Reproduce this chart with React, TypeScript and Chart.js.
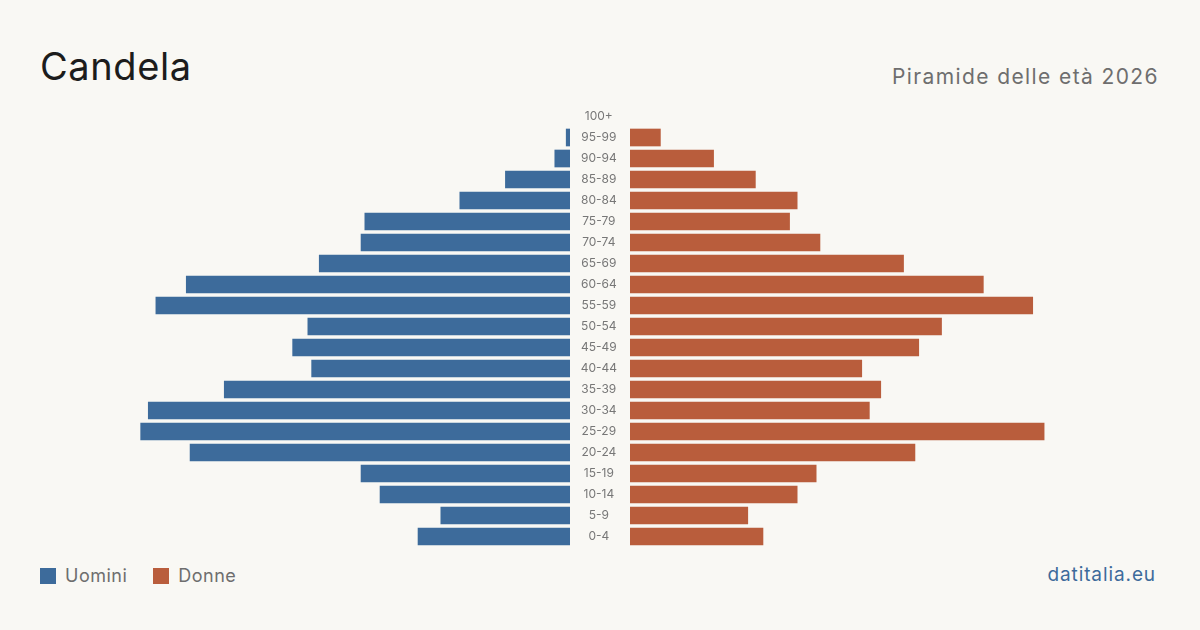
import React, { useEffect, useRef } from "react";
import { Chart, registerables } from "chart.js";

Chart.register(...registerables);

const ageGroups = [
  "100+", "95-99", "90-94", "85-89", "80-84", "75-79", "70-74", "65-69",
  "60-64", "55-59", "50-54", "45-49", "40-44", "35-39", "30-34", "25-29",
  "20-24", "15-19", "10-14", "5-9", "0-4",
];
const men = [0, 1, 4, 17, 29, 54, 55, 66, 101, 109, 69, 73, 68, 91, 111, 113, 100, 55, 50, 34, 40];
const women = [0, 8, 22, 33, 44, 42, 50, 72, 93, 106, 82, 76, 61, 66, 63, 109, 75, 49, 44, 31, 35];
const xMax = 139.5;

const BLUE = "#3d6b9b";
const ORANGE = "#b95d3c";
const BG = "#f9f8f4";
const FONT = "Inter, 'Noto Sans', sans-serif";

// zero counts are not drawn (no hairline bar)
const toDrawn = (arr: number[]) => arr.map((v) => (v === 0 ? null : v));

export default function App() {
  const leftRef = useRef<HTMLCanvasElement>(null);
  const rightRef = useRef<HTMLCanvasElement>(null);

  useEffect(() => {
    document.body.style.margin = "0";
    document.body.style.background = BG;
    Chart.defaults.font.family = FONT;

    const left = new Chart(leftRef.current!, {
      type: "bar",
      data: {
        labels: ageGroups,
        datasets: [
          { label: "Uomini", data: toDrawn(men), backgroundColor: BLUE, borderWidth: 0, barThickness: 17 },
        ],
      },
      options: {
        indexAxis: "y",
        responsive: false,
        animation: false,
        events: [],
        layout: { padding: 0 },
        plugins: { legend: { display: false }, tooltip: { enabled: false } },
        scales: {
          x: { display: false, reverse: true, min: 0, max: xMax },
          y: { display: false },
        },
      },
    });

    const right = new Chart(rightRef.current!, {
      type: "bar",
      data: {
        labels: ageGroups,
        datasets: [
          { label: "Donne", data: toDrawn(women), backgroundColor: ORANGE, borderWidth: 0, barThickness: 17 },
        ],
      },
      options: {
        indexAxis: "y",
        responsive: false,
        animation: false,
        events: [],
        layout: { padding: 0 },
        plugins: { legend: { display: false }, tooltip: { enabled: false } },
        scales: {
          x: { display: false, min: 0, max: xMax },
          y: {
            position: "left",
            border: { display: false },
            grid: { display: false, drawTicks: false },
            ticks: {
              color: "#777777",
              font: { size: 12, family: FONT },
              crossAlign: "center",
              padding: 13,
            },
            afterFit: (scale: any) => {
              scale.width = 60;
              scale.paddingTop = 0;
              scale.paddingBottom = 0;
            },
          },
        },
      },
    });

    return () => {
      left.destroy();
      right.destroy();
    };
  }, []);

  return (
    <div
      style={{
        position: "fixed",
        left: 0,
        top: 0,
        width: 1200,
        height: 630,
        background: BG,
        fontFamily: FONT,
        overflow: "hidden",
      }}
    >
      <div
        style={{
          position: "absolute",
          left: 40,
          top: 47,
          fontSize: 38,
          letterSpacing: 0.6,
          lineHeight: 1,
          color: "#1c1c1c",
          whiteSpace: "nowrap",
        }}
      >
        Candela
      </div>
      <div
        style={{
          position: "absolute",
          right: 41,
          top: 66,
          fontSize: 21,
          letterSpacing: 1.4,
          lineHeight: 1,
          color: "#6e6e6e",
          whiteSpace: "nowrap",
        }}
      >
        Piramide delle età 2026
      </div>
      <canvas
        ref={leftRef}
        width={530}
        height={441}
        style={{ position: "absolute", left: 40, top: 106, width: 530, height: 441 }}
      />
      <canvas
        ref={rightRef}
        width={590}
        height={441}
        style={{ position: "absolute", left: 570, top: 106, width: 590, height: 441 }}
      />
      <div
        style={{
          position: "absolute",
          left: 40,
          top: 566,
          display: "flex",
          alignItems: "center",
          fontSize: 18,
          letterSpacing: 0.5,
          lineHeight: "20px",
          color: "#6e6e6e",
        }}
      >
        <span style={{ display: "inline-block", width: 16, height: 16, background: BLUE, marginRight: 9 }} />
        <span>Uomini</span>
        <span
          style={{ display: "inline-block", width: 16, height: 16, background: ORANGE, marginLeft: 26, marginRight: 9 }}
        />
        <span>Donne</span>
      </div>
      <div
        style={{
          position: "absolute",
          right: 44,
          top: 565,
          fontSize: 19,
          letterSpacing: 0.9,
          lineHeight: 1,
          color: BLUE,
          whiteSpace: "nowrap",
        }}
      >
        datitalia.eu
      </div>
    </div>
  );
}
